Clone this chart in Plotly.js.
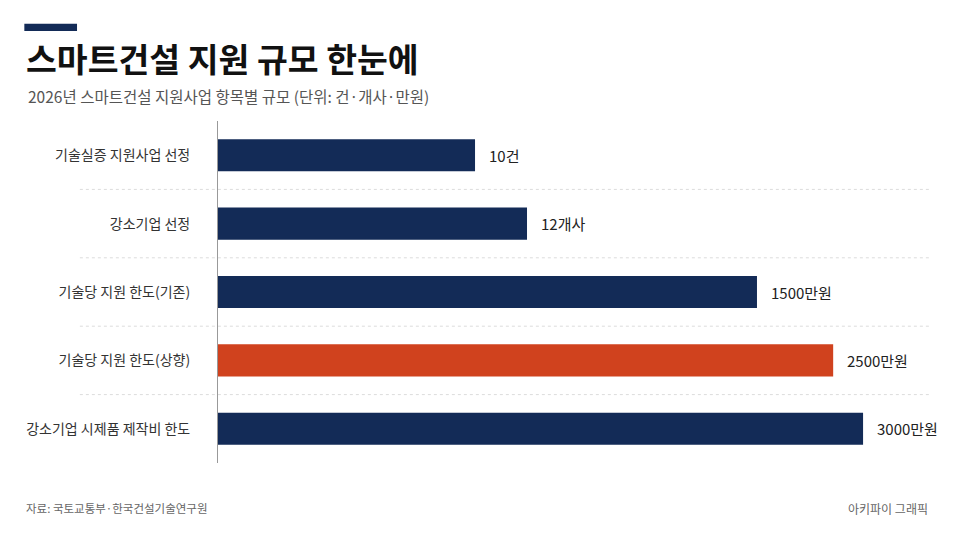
<!DOCTYPE html>
<html>
<head>
<meta charset="utf-8">
<script src="https://cdn.plot.ly/plotly-3.0.1.min.js"></script>
<style>
  html, body { margin: 0; padding: 0; background: #fff; }
  #chart { width: 960px; height: 540px; }
</style>
</head>
<body>
<div id="chart"></div>
<script>
// 항목 (위에서 아래 순서)
var categories = ['기술실증 지원사업 선정', '강소기업 선정', '기술당 지원 한도(기존)', '기술당 지원 한도(상향)', '강소기업 시제품 제작비 한도'];
// 막대 길이 (그림에서 읽은 표시용 척도, 0-100)
var barLength = [36.1, 43.4, 75.7, 86.4, 90.6];
// 막대 끝 값 라벨
var valueLabels = ['10건', '12개사', '1500만원', '2500만원', '3000만원'];
var barColors = ['#132b57', '#132b57', '#132b57', '#d0421e', '#132b57'];

var FONT = '"Noto Sans CJK KR", "Noto Sans", sans-serif';

var trace = {
    type: 'bar',
    orientation: 'h',
    x: barLength,
    y: categories,
    width: 0.47,
    marker: { color: barColors },
    hoverinfo: 'skip'
};

// 값 라벨
var annotations = valueLabels.map(function (t, i) {
    return {
        x: barLength[i], y: categories[i], xref: 'x', yref: 'y',
        text: t, showarrow: false, xanchor: 'left', xshift: 12,
        font: { family: FONT, size: 15, color: '#222' }
    };
});

annotations.push(
    {
        xref: 'paper', yref: 'paper', x: -0.272, y: 1.187, xanchor: 'left', yanchor: 'middle',
        text: '<b>스마트건설 지원 규모 한눈에</b>', showarrow: false,
        font: { family: FONT, size: 33.5, color: '#111' }
    },
    {
        xref: 'paper', yref: 'paper', x: -0.27, y: 1.073, xanchor: 'left', yanchor: 'middle',
        text: '2026년 스마트건설 지원사업 항목별 규모 (단위: 건·개사·만원)', showarrow: false,
        font: { family: FONT, size: 15.5, color: '#555' }
    },
    {
        xref: 'paper', yref: 'paper', x: -0.272, y: -0.132, xanchor: 'left', yanchor: 'middle',
        text: '자료: 국토교통부·한국건설기술연구원', showarrow: false,
        font: { family: FONT, size: 11.5, color: '#666' }
    },
    {
        xref: 'paper', yref: 'paper', x: 1, y: -0.132, xanchor: 'right', yanchor: 'middle',
        text: '아키파이 그래픽', showarrow: false,
        font: { family: FONT, size: 12, color: '#666' }
    }
);

// 항목 사이 점선
var shapes = [0.5, 1.5, 2.5, 3.5].map(function (yv) {
    return {
        type: 'line', xref: 'paper', yref: 'y', x0: -0.194, x1: 1, y0: yv, y1: yv,
        line: { color: '#dcdcdc', width: 1, dash: '3px,3px' }, layer: 'below'
    };
});
// 제목 위 막대
shapes.push({
    type: 'rect', xref: 'paper', yref: 'paper', x0: -0.272, x1: -0.198, y0: 1.263, y1: 1.284,
    fillcolor: '#132b57', line: { width: 0 }
});

var layout = {
    width: 960, height: 540,
    margin: { l: 218, r: 30, t: 121, b: 77 },
    paper_bgcolor: '#fff', plot_bgcolor: '#fff',
    showlegend: false,
    font: { family: FONT, color: '#333' },
    xaxis: {
        range: [0, 100], showgrid: false, zeroline: false,
        showticklabels: false, showline: false, fixedrange: true
    },
    yaxis: {
        type: 'category', autorange: 'reversed',
        showgrid: false, zeroline: false,
        showline: true, linecolor: '#999', linewidth: 1,
        ticks: '', ticklabelstandoff: 24,
        tickfont: { family: FONT, size: 14, color: '#333' }
    },
    annotations: annotations,
    shapes: shapes
};

Plotly.newPlot('chart', [trace], layout, { displayModeBar: false, staticPlot: true });
</script>
</body>
</html>
